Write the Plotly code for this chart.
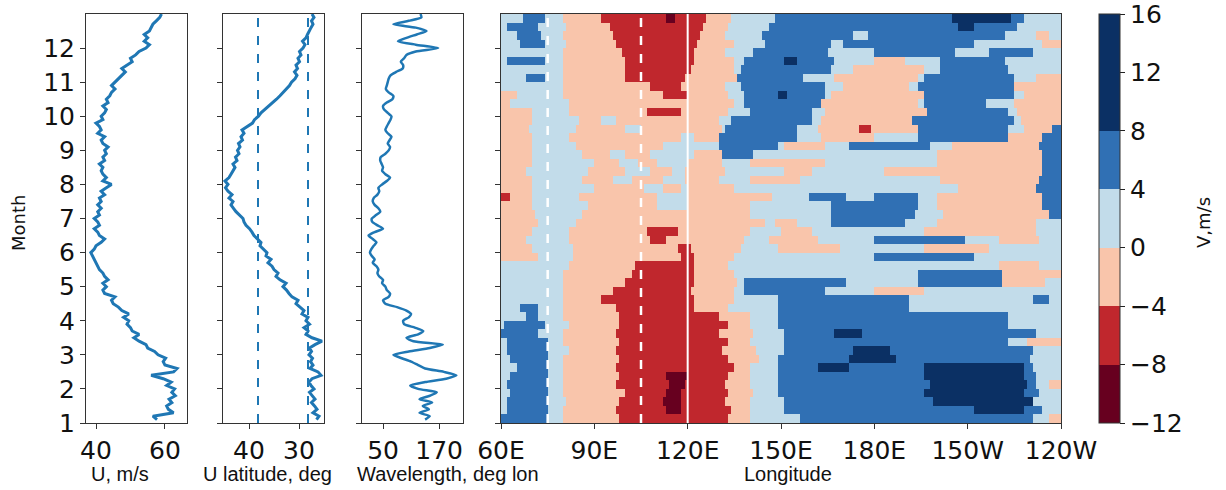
import plotly.graph_objects as go

# ---------------- data ----------------
MONTHS = [1.1, 1.2, 1.3, 1.4, 1.5, 1.6, 1.7, 1.8, 1.9, 2.0,
          2.1, 2.2, 2.3, 2.4, 2.5, 2.6, 2.7, 2.8, 2.9, 3.0,
          3.1, 3.2, 3.3, 3.4, 3.5, 3.6, 3.7, 3.8, 3.9, 4.0,
          4.1, 4.2, 4.3, 4.4, 4.5, 4.6, 4.7, 4.8, 4.9, 5.0,
          5.1, 5.2, 5.3, 5.4, 5.5, 5.6, 5.7, 5.8, 5.9, 6.0,
          6.1, 6.2, 6.3, 6.4, 6.5, 6.6, 6.7, 6.8, 6.9, 7.0,
          7.1, 7.2, 7.3, 7.4, 7.5, 7.6, 7.7, 7.8, 7.9, 8.0,
          8.1, 8.2, 8.3, 8.4, 8.5, 8.6, 8.7, 8.8, 8.9, 9.0,
          9.1, 9.2, 9.3, 9.4, 9.5, 9.6, 9.7, 9.8, 9.9, 10.0,
          10.1, 10.2, 10.3, 10.4, 10.5, 10.6, 10.7, 10.8, 10.9, 11.0,
          11.1, 11.2, 11.3, 11.4, 11.5, 11.6, 11.7, 11.8, 11.9, 12.0,
          12.1, 12.2, 12.3, 12.4, 12.5, 12.6, 12.7, 12.8, 12.9, 13.0]

U_SPEED = [57.7, 56.5, 62.5, 61.0, 60.5, 62.0, 61.2, 63.0, 62.0, 62.8,
           60.5, 61.8, 59.5, 56.0, 62.5, 63.5, 60.0, 59.5, 60.2, 58.0,
           57.0, 55.0, 54.5, 52.5, 51.0, 52.5, 50.5, 50.0, 49.0, 49.5,
           48.0, 49.5, 47.5, 46.5, 45.0, 44.5, 45.5, 42.5, 42.0, 43.0,
           42.0, 43.5, 42.5, 42.0, 41.0, 40.5, 40.0, 39.5, 39.0, 38.5,
           39.5, 40.0, 41.5, 42.5, 41.0, 40.5, 39.5, 41.0, 40.5, 39.5,
           41.0, 40.5, 41.5, 40.5, 41.5, 41.0, 42.5, 41.5, 43.0, 44.5,
           42.0, 43.0, 42.0, 41.5, 42.0, 41.0, 42.5, 42.0, 43.0, 42.5,
           43.5, 42.0, 41.5, 42.5, 40.5, 41.5, 41.0, 40.0, 42.0, 41.5,
           42.5, 43.0, 42.0, 43.5, 43.0, 44.0, 44.5, 45.5, 44.5, 45.5,
           46.5, 47.5, 48.5, 47.5, 49.0, 50.5, 50.0, 51.5, 52.5, 54.5,
           55.5, 54.0, 55.0, 54.0, 55.5, 56.0, 56.5, 57.5, 58.5, 59.0]

U_LATITUDE = [26.5, 26.0, 27.2, 26.4, 26.9, 27.5, 26.8, 27.3, 27.9, 27.0,
              27.6, 28.0, 27.4, 25.6, 26.2, 27.8, 27.2, 27.7, 27.3, 28.0,
              27.5, 27.9, 26.8, 25.4, 27.4, 28.6, 28.2, 29.0, 27.9, 28.6,
              28.2, 29.4, 29.0, 29.8, 30.6, 30.2, 31.4, 32.0, 32.5, 33.2,
              32.6, 33.8, 34.6, 34.2, 35.0, 35.4, 36.2, 35.6, 36.6, 36.4,
              37.2, 37.8, 37.6, 38.4, 39.0, 39.4, 39.9, 40.6, 41.0, 41.2,
              42.0, 42.6, 43.1, 43.6, 43.2, 44.0, 43.4, 44.2, 44.7, 44.2,
              44.8, 44.0, 43.6, 43.2, 42.8, 43.2, 42.4, 42.7, 42.0, 42.3,
              41.8, 42.1, 41.3, 41.6, 41.0, 41.4, 40.2, 39.3, 38.9, 38.1,
              37.6, 36.8, 35.9, 35.2, 34.5, 33.8, 33.1, 32.6, 31.9, 31.5,
              30.8, 30.4, 30.9, 30.3, 30.6, 29.9, 30.2, 29.6, 29.9, 29.2,
              28.8, 29.3, 28.6, 28.3, 28.0, 27.6, 27.2, 27.5, 27.0, 27.4]

WAVELENGTH = [140, 150, 128, 148, 135, 155, 128, 150, 165, 125,
              108, 140, 185, 207, 180, 140, 125, 110, 90, 72,
              105, 150, 178, 115, 100, 125, 136, 118, 95, 93,
              105, 110, 100, 80, 55, 50, 62, 65, 58, 55,
              48, 50, 42, 38, 40, 36, 28, 32, 26, 22,
              25, 30, 36, 28, 19, 32, 50, 38, 27, 26,
              35, 44, 40, 32, 28, 30, 38, 42, 40, 48,
              58, 65, 55, 48, 50, 47, 44, 45, 55, 62,
              65, 60, 64, 68, 60, 55, 58, 62, 66, 68,
              60, 52, 50, 58, 70, 72, 62, 56, 58, 60,
              62, 66, 78, 92, 93, 88, 95, 100, 120, 168,
              120, 82, 100, 122, 143, 120, 72, 105, 132, 130]

U_LAT_REFERENCE = [38.2, 28.2]

# Heatmap rows, top (month 13) to bottom (month 1); each row spans a quarter month.
MONTH_ROW_EDGES = [13.0, 12.75, 12.5, 12.25, 12.0, 11.75, 11.5, 11.25, 11.0,
                   10.75, 10.5, 10.25, 10.0, 9.75, 9.5, 9.25, 9.0,
                   8.75, 8.5, 8.25, 8.0, 7.75, 7.5, 7.25, 7.0,
                   6.75, 6.5, 6.25, 6.0, 5.75, 5.5, 5.25, 5.0,
                   4.75, 4.5, 4.25, 4.0, 3.75, 3.5, 3.25, 3.0,
                   2.75, 2.5, 2.25, 2.0, 1.75, 1.5, 1.25, 1.0]

# "lon:band" = band starts at that longitude (deg E, 180-240 = 180E..120W)
# band 0: -12..-8, 1: -8..-4, 2: -4..0, 3: 0..4, 4: 4..8, 5: 8..16
V_ROWS = [
    "60:3 67:4 74:3 80:2 92:1 113:0 116:1 126:2 134:3 148:4 205:5 224:4 228:3",
    "60:3 62:4 72:3 81:2 95:1 125:2 133:3 146:4 207:5 212:4 226:3",
    "60:3 65:4 73:3 80:2 96:1 124:2 132:3 144:4 173:3 178:4 222:3 232:2 236:3",
    "60:3 66:4 74:3 81:2 97:1 123:2 135:3 145:4 166:3 170:4 212:3 234:2",
    "60:3 80:2 99:1 122:2 132:3 141:4 165:3 180:4 206:3 217:4 231:3",
    "60:3 62:4 74:3 80:2 100:1 122:2 135:3 138:4 151:5 155:4 167:3 180:2 190:3 201:4 222:3",
    "60:3 80:2 100:1 121:2 135:3 137:4 166:3 173:2 196:3 201:4 223:3",
    "60:3 68:4 74:3 80:2 100:1 119:2 136:4 157:3 167:2 194:3 196:4 225:3 232:2",
    "60:3 80:2 108:1 118:2 132:3 137:4 164:3 170:2 191:3 194:4 225:2",
    "60:2 65:3 80:2 112:1 120:2 133:3 138:4 149:5 152:4 164:3 166:2 196:4 225:3 228:2",
    "60:2 63:3 82:2 135:3 138:4 163:2 194:3 196:4 216:3 225:2",
    "60:2 70:3 82:2 107:1 118:2 133:3 140:4 160:3 164:2 197:4 223:3 226:2",
    "60:2 70:3 85:2 92:3 97:2 130:3 134:4 160:3 163:2 192:4 225:3 227:2",
    "60:2 69:3 84:2 100:3 105:2 131:3 132:4 155:3 162:2 175:1 179:2 194:4 223:3 228:2 237:4",
    "60:2 70:3 82:2 118:3 122:2 130:4 155:3 163:2 180:3 194:4 223:2 234:4",
    "60:2 70:3 84:2 112:3 130:4 149:3 151:2 164:3 172:4 198:3 205:2 233:4",
    "60:2 70:3 86:2 95:3 100:2 108:3 122:2 131:4 141:3 200:2 234:4",
    "60:2 70:3 90:2 98:3 104:2 110:3 120:2 131:3 140:2 164:3 200:2 234:4",
    "60:2 68:3 88:2 100:3 108:2 115:3 119:2 132:3 151:2 160:3 183:2 234:4",
    "60:2 70:3 86:2 96:3 102:2 112:3 119:2 130:3 140:2 156:3 201:2 233:4",
    "60:2 70:3 90:2 106:3 112:2 118:3 120:2 135:3 207:2 232:4",
    "60:1 63:2 70:3 85:2 110:3 120:2 147:3 159:4 171:3 180:4 194:3 200:2 234:4",
    "60:2 70:3 88:2 110:3 120:2 140:3 166:4 194:3 200:2 234:4",
    "60:2 71:3 86:2 140:3 166:4 193:3 202:2 236:4",
    "60:2 72:3 84:2 145:3 148:2 155:3 166:4 190:3 200:2 232:3",
    "60:2 70:3 82:2 107:1 117:2 140:3 150:2 160:3 196:2 232:3",
    "60:2 68:3 82:2 108:1 113:2 138:3 146:2 162:3 180:4 209:3 220:2 233:3",
    "60:2 70:3 83:2 117:1 121:2 137:3 149:2 169:3 196:2 217:3",
    "60:2 72:3 83:2 118:1 122:2 135:3 180:4 212:3",
    "60:3 82:2 103:1 122:2 133:3 220:2 233:3",
    "60:3 80:2 102:1 122:2 135:3 194:4 221:2",
    "60:3 80:2 100:1 122:2 136:3 138:4 171:3 194:4 221:2 235:3",
    "60:3 80:2 96:1 121:2 135:3 138:4 164:3 180:2 196:3",
    "60:3 80:2 92:1 122:2 135:3 149:4 191:3 231:4 236:3",
    "60:3 66:4 72:3 80:2 97:1 122:2 133:3 149:4 191:3",
    "60:3 68:4 72:3 80:2 98:1 130:2 140:3 149:4 223:3",
    "60:3 61:4 74:3 82:2 98:1 133:2 140:3 149:4 223:3",
    "60:4 72:3 80:2 97:1 130:2 141:3 151:4 167:5 176:4 232:3",
    "60:3 62:4 75:3 80:2 98:1 133:2 140:3 151:4 223:3 229:2",
    "60:3 62:4 75:3 82:2 97:1 131:2 142:3 151:4 173:5 185:4 231:3",
    "60:3 63:4 75:3 80:2 98:1 133:2 143:3 149:4 172:5 187:4 230:3",
    "60:3 65:4 75:3 80:2 97:1 135:2 140:3 149:4 162:5 172:4 196:5 228:4 231:3",
    "60:3 63:4 75:3 80:2 98:1 113:0 120:1 133:2 140:3 149:4 196:5 228:4 232:3",
    "60:3 62:4 75:3 80:2 97:1 114:0 119:1 132:2 140:3 149:4 198:5 229:4 232:3 236:2",
    "60:3 63:4 75:3 80:2 100:1 113:0 118:1 133:2 141:3 149:4 196:5 228:4 233:3",
    "60:3 62:4 75:3 81:2 98:1 112:0 118:1 132:2 140:3 151:4 199:5 231:3",
    "60:3 62:4 75:3 80:2 97:1 113:0 118:1 134:2 140:3 151:4 212:5 228:4 234:3",
    "60:4 75:3 80:2 98:1 133:2 140:3 156:4 231:3 236:2",
]

V_BAND_VALUES = [-10, -6, -2, 2, 6, 12]
V_COLORS = ["#67001f", "#c0272d", "#f9c5ab", "#c2dcea", "#3070b4", "#0b3064"]
V_EDGES = [-12, -8, -4, 0, 4, 8, 16]
V_TICKS = [-12, -8, -4, 0, 4, 8, 12, 16]

LON_RANGE = [60, 240]
LON_TICKS = [60, 90, 120, 150, 180, 210, 240]
LON_TICK_TEXT = ["60E", "90E", "120E", "150E", "180E", "150W", "120W"]
LON_DASHED = [75, 105]
LON_SOLID = [120]
MONTH_TICKS = [1, 2, 3, 4, 5, 6, 7, 8, 9, 10, 11, 12]

U_TICKS = [40, 60]
LAT_TICKS = [40, 30]
WAVE_TICKS = [50, 170]

# ---------------- build heatmap grid (1 degree) ----------------
lon_edges = list(range(LON_RANGE[0], LON_RANGE[1] + 1))
lon_cells = [0.5 * (a + b) for a, b in zip(lon_edges[:-1], lon_edges[1:])]


def row_values(spec):
    segs = []
    for tok in spec.split():
        lon, band = tok.split(":")
        segs.append((float(lon), int(band)))
    out = []
    for c in lon_cells:
        band = segs[0][1]
        for lon, b in segs:
            if lon <= c:
                band = b
        out.append(V_BAND_VALUES[band])
    return out


z_rows = [row_values(r) for r in V_ROWS][::-1]
y_edges = MONTH_ROW_EDGES[::-1]

# ---------------- figure ----------------
W, H = 1226, 490
LINE_BLUE = "#1f77b4"
FONT = "DejaVu Sans"
TICK_SIZE = 25


def px(xp):
    return xp / W


def py(yp):
    return 1 - yp / H


zmin, zmax = V_EDGES[0], V_EDGES[-1]
span = zmax - zmin
colorscale = []
for i, col in enumerate(V_COLORS):
    colorscale.append([(V_EDGES[i] - zmin) / span, col])
    colorscale.append([(V_EDGES[i + 1] - zmin) / span, col])

fig = go.Figure()

fig.add_trace(go.Scatter(x=U_SPEED, y=MONTHS, mode="lines",
                         line=dict(color=LINE_BLUE, width=3), xaxis="x", yaxis="y",
                         showlegend=False, hoverinfo="skip"))
fig.add_trace(go.Scatter(x=U_LATITUDE, y=MONTHS, mode="lines",
                         line=dict(color=LINE_BLUE, width=3), xaxis="x2", yaxis="y2",
                         showlegend=False, hoverinfo="skip"))
fig.add_trace(go.Scatter(x=WAVELENGTH, y=MONTHS, mode="lines",
                         line=dict(color=LINE_BLUE, width=2.5, shape="spline", smoothing=0.6),
                         xaxis="x3", yaxis="y3", showlegend=False, hoverinfo="skip"))

cb_tickvals = [v if v < zmax else v - 0.01 for v in V_TICKS]
fig.add_trace(go.Heatmap(
    x=lon_edges, y=y_edges, z=z_rows, xaxis="x4", yaxis="y4",
    zmin=zmin, zmax=zmax, colorscale=colorscale, hoverinfo="skip",
    colorbar=dict(
        x=px(1099), xanchor="left", xpad=0,
        y=py(423), yanchor="bottom", ypad=0,
        len=(423 - 14) / H, lenmode="fraction",
        thickness=21, thicknessmode="pixels",
        tickvals=cb_tickvals, ticktext=[str(v).replace("-", "\u2212") for v in V_TICKS],
        ticks="outside", ticklen=5, tickcolor="#222",
        ticklabeloverflow="allow",
        tickfont=dict(family=FONT, size=TICK_SIZE, color="#111"),
        outlinewidth=1, outlinecolor="#333",
    ),
))

y_dom = [py(423), py(14)]

axis_common = dict(showline=True, mirror=True, linecolor="#333", linewidth=1,
                   ticks="outside", ticklen=5, tickwidth=1, tickcolor="#333",
                   showgrid=False, zeroline=False,
                   tickfont=dict(family=FONT, size=TICK_SIZE, color="#111"))


def yaxis(anchor, labels):
    return dict(axis_common, domain=y_dom, range=[1, 13], tickvals=MONTH_TICKS,
                anchor=anchor, showticklabels=labels)


fig.update_layout(
    width=W, height=H, margin=dict(l=0, r=0, t=0, b=0, autoexpand=False),
    paper_bgcolor="white", plot_bgcolor="white",
    xaxis=dict(axis_common, domain=[px(86), px(187)], range=[37.1, 66.4], tickvals=U_TICKS, anchor="y"),
    yaxis=yaxis("x", True),
    xaxis2=dict(axis_common, domain=[px(223), px(324)], range=[45.2, 25.0], tickvals=LAT_TICKS, anchor="y2"),
    yaxis2=yaxis("x2", False),
    xaxis3=dict(axis_common, domain=[px(362), px(463)], range=[5, 221], tickvals=WAVE_TICKS, anchor="y3"),
    yaxis3=yaxis("x3", False),
    xaxis4=dict(axis_common, domain=[px(501), px(1061)], range=LON_RANGE, tickvals=LON_TICKS,
                ticktext=LON_TICK_TEXT, anchor="y4"),
    yaxis4=yaxis("x4", False),
)

shapes = []
for lat in U_LAT_REFERENCE:
    shapes.append(dict(type="line", xref="x2", yref="y2 domain", x0=lat, x1=lat, y0=0, y1=1,
                       line=dict(color=LINE_BLUE, width=2, dash="dash")))
for lon in LON_DASHED:
    shapes.append(dict(type="line", xref="x4", yref="y4 domain", x0=lon, x1=lon, y0=0, y1=1,
                       line=dict(color="white", width=2.5, dash="dash")))
for lon in LON_SOLID:
    shapes.append(dict(type="line", xref="x4", yref="y4 domain", x0=lon, x1=lon, y0=0, y1=1,
                       line=dict(color="white", width=2)))
fig.update_layout(shapes=shapes)

LABEL_FONT = dict(family="Liberation Sans", size=20, color="#111")
titles = [("U, m/s", 120), ("U latitude, deg", 267), ("Wavelength, deg lon", 448), ("Longitude", 788)]
annotations = []
for text, cx in titles:
    annotations.append(dict(text=text, x=px(cx), y=py(474), xref="paper", yref="paper",
                            xanchor="center", yanchor="middle", showarrow=False, font=LABEL_FONT))
annotations.append(dict(text="Month", x=px(18), y=py(223), xref="paper", yref="paper",
                        xanchor="center", yanchor="middle", showarrow=False, textangle=-90,
                        font=dict(family=FONT, size=18, color="#111")))
annotations.append(dict(text="V,m/s", x=px(1203), y=py(223), xref="paper", yref="paper",
                        xanchor="center", yanchor="middle", showarrow=False, textangle=-90,
                        font=dict(family=FONT, size=18, color="#111")))
fig.update_layout(annotations=annotations)

# remove the browser's default 8px page margin so the figure fills the 1226x490 window
fig.write_html("out.html",
               config={"displayModeBar": False, "staticPlot": True},
               post_script="document.body.style.margin='0px';document.body.style.overflow='hidden';")
